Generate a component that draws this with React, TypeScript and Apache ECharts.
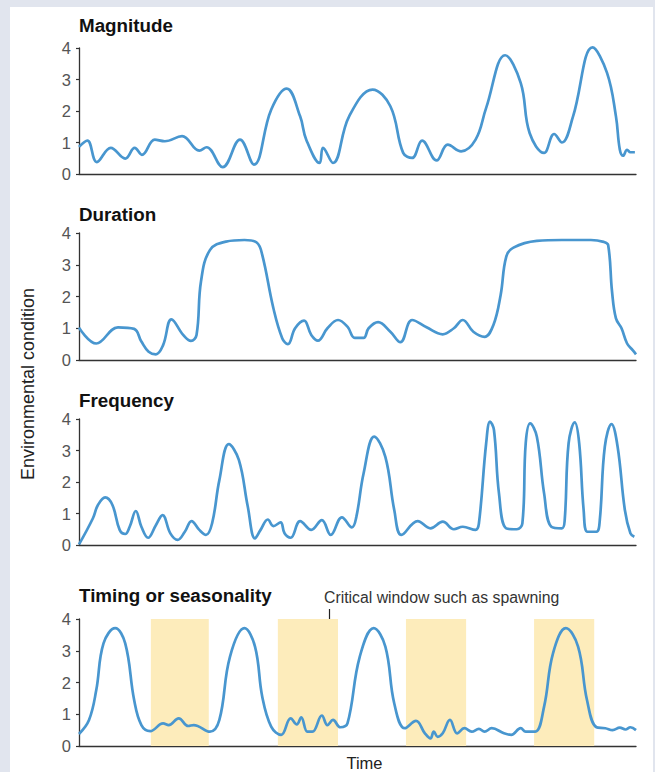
import React, { useEffect, useRef } from "react";
import * as echarts from "echarts";

// Time is on an arbitrary 0–100 scale; values are "environmental condition" 0–4
const yTicks = [0, 1, 2, 3, 4];
const panelTitles = ["Magnitude", "Duration", "Frequency", "Timing or seasonality"];

const magnitude: [number, number][] = [
  [0, 0.86], [1.5, 1.06], [3.2, 0.38], [5.7, 0.83], [8.3, 0.49], [10.0, 0.83], [11.3, 0.61],
  [13.6, 1.09], [15.4, 1.04], [18.5, 1.2], [21.6, 0.74], [22.9, 0.85], [25.8, 0.22], [28.9, 1.09],
  [31.4, 0.3], [34.5, 2.04], [37.3, 2.71], [39.7, 1.83], [40.8, 1.09], [43.2, 0.35], [43.8, 0.83],
  [45.6, 0.35], [48.5, 1.83], [52.7, 2.68], [55.9, 2.15], [58.2, 0.67], [59.8, 0.51], [61.6, 1.06],
  [64.2, 0.43], [66.2, 0.93], [68.6, 0.72], [71.2, 1.09], [73.1, 2.1], [76.5, 3.77], [79.3, 2.89],
  [80.9, 1.3], [83.5, 0.67], [85.3, 1.27], [86.7, 1.0], [88.7, 1.83], [92.2, 4.02], [94.8, 3.21],
  [96.4, 1.83], [97.1, 0.77], [97.7, 0.58], [98.4, 0.77], [99.0, 0.69], [99.8, 0.69],
];

const duration: [number, number][] = [
  [0, 1.02], [3.1, 0.52], [7.0, 1.03], [9.9, 0.98], [11.2, 0.58], [12.5, 0.26], [13.8, 0.18],
  [15.1, 0.47], [16.6, 1.28], [18.7, 0.79], [20.1, 0.6], [21.1, 0.79], [21.9, 2.47], [23.5, 3.46],
  [26.4, 3.73], [29.7, 3.78], [31.9, 3.7], [32.9, 3.31], [34.9, 1.63], [36.5, 0.68], [37.5, 0.5],
  [38.8, 1.0], [40.4, 1.24], [41.7, 0.79], [42.9, 0.61], [44.6, 1.0], [46.5, 1.26], [48.2, 1.05],
  [49.5, 0.7], [51.1, 0.7], [52.0, 1.0], [53.7, 1.19], [55.9, 0.89], [57.7, 0.56], [59.8, 1.26],
  [62.4, 1.03], [65.3, 0.81], [67.3, 1.0], [68.9, 1.26], [70.8, 0.89], [72.8, 0.73], [74.4, 1.1],
  [75.7, 2.05], [76.7, 3.25], [78.0, 3.54], [82.2, 3.75], [86.7, 3.78], [91.9, 3.78], [94.2, 3.72],
  [95.0, 3.62], [95.7, 2.15], [96.4, 1.31], [97.4, 1.0], [98.4, 0.52], [99.4, 0.31], [100, 0.18],
];

const frequency: [number, number][] = [
  [0, 0.02], [2.5, 0.85], [3.4, 1.27], [4.7, 1.51], [6.0, 1.27], [7.3, 0.48], [8.3, 0.35],
  [9.1, 0.58], [10.2, 1.08], [11.2, 0.58], [12.4, 0.23], [13.8, 0.63], [15.0, 0.95], [16.4, 0.37],
  [17.7, 0.16], [19.0, 0.42], [20.2, 0.76], [21.6, 0.48], [22.8, 0.32], [23.9, 0.69], [25.2, 2.06],
  [26.9, 3.2], [28.7, 2.7], [30.3, 1.22], [31.6, 0.21], [32.6, 0.48], [33.9, 0.81], [34.9, 0.6],
  [36.2, 0.72], [36.9, 0.37], [38.0, 0.23], [39.7, 0.76], [41.7, 0.48], [43.6, 0.79], [45.2, 0.32],
  [47.2, 0.88], [49.0, 0.56], [49.8, 0.9], [51.1, 2.28], [53.0, 3.44], [55.0, 2.8], [56.6, 1.11],
  [57.9, 0.32], [60.8, 0.76], [63.1, 0.53], [65.3, 0.74], [67.3, 0.5], [68.9, 0.58], [71.2, 0.48],
  [71.8, 0.69], [73.1, 3.23], [73.8, 3.92], [74.5, 3.65], [75.4, 1.64], [76.7, 0.53], [78.6, 0.5],
  [79.6, 0.69], [80.2, 3.23], [81.0, 3.86], [82.2, 3.44], [83.5, 1.64], [84.8, 0.58], [86.7, 0.53],
  [87.2, 0.79], [87.9, 3.23], [89.0, 3.89], [89.8, 3.23], [90.6, 1.11], [91.3, 0.42], [92.9, 0.42],
  [93.5, 0.79], [94.4, 3.12], [95.6, 3.84], [96.7, 3.12], [98.0, 1.11], [99.0, 0.37], [99.7, 0.26],
];

const timing: [number, number][] = [
  [0, 0.38], [1.8, 0.82], [3.1, 1.76], [4.4, 3.23], [6.5, 3.71], [8.3, 3.23], [9.9, 1.45],
  [11.2, 0.66], [12.8, 0.47], [15.1, 0.71], [16.1, 0.66], [17.9, 0.87], [19.6, 0.63], [20.6, 0.66],
  [23.5, 0.45], [25.2, 0.82], [27.1, 2.81], [29.7, 3.71], [31.6, 3.13], [32.9, 1.55], [34.5, 0.61],
  [36.3, 0.35], [38.0, 0.87], [39.1, 0.68], [39.9, 0.9], [41.0, 0.45], [41.9, 0.45], [43.6, 0.96],
  [44.6, 0.66], [45.6, 0.82], [46.9, 0.59], [48.2, 0.71], [50.4, 2.81], [52.9, 3.71], [55.0, 3.13],
  [56.6, 1.34], [58.5, 0.56], [60.5, 0.79], [62.1, 0.4], [63.1, 0.24], [63.7, 0.45], [64.4, 0.29],
  [65.3, 0.4], [66.6, 0.82], [67.9, 0.4], [69.2, 0.56], [70.5, 0.45], [71.8, 0.54], [72.8, 0.45],
  [74.1, 0.56], [76.3, 0.4], [77.6, 0.35], [79.3, 0.56], [80.2, 0.45], [81.9, 0.45], [83.5, 1.24],
  [85.1, 2.92], [87.4, 3.71], [89.6, 3.13], [91.2, 1.45], [92.9, 0.59], [94.5, 0.56], [95.8, 0.5],
  [97.1, 0.58], [98.1, 0.52], [99.0, 0.59], [100, 0.5],
];

const spawningWindows: [number, number][] = [
  [12.9, 23.3], [35.7, 46.5], [58.7, 69.5], [81.7, 92.5],
];

const annotationText = "Critical window such as spawning";
const yAxisTitle = "Environmental condition";
const xAxisTitle = "Time";

const seriesData = [magnitude, duration, frequency, timing];

const W = 655;
const H = 772;
const gridTops = [48, 233, 419, 619];
const gridHeights = [126, 127, 126, 127];
const titleCentersY = [25.5, 214.5, 400.5, 595];
const FONT = '"Liberation Sans", Arial, sans-serif';
const LINE_COLOR = "#4896cf";
const AXIS_COLOR = "#333333";

export default function App() {
  const ref = useRef<HTMLDivElement>(null);

  useEffect(() => {
    if (!ref.current) return;
    const chart = echarts.init(ref.current, undefined, { renderer: "svg" });

    const option: any = {
      animation: false,
      backgroundColor: "transparent",
      grid: gridTops.map((top, i) => ({
        left: 79,
        top,
        width: 557,
        height: gridHeights[i],
        containLabel: false,
      })),
      xAxis: gridTops.map((_, i) => ({
        type: "value",
        gridIndex: i,
        min: 0,
        max: 100,
        axisLine: { show: true, onZero: false, lineStyle: { color: AXIS_COLOR, width: 1.3 } },
        axisTick: { show: false },
        axisLabel: { show: false },
        splitLine: { show: false },
      })),
      yAxis: gridTops.map((_, i) => ({
        type: "value",
        gridIndex: i,
        min: yTicks[0],
        max: yTicks[yTicks.length - 1],
        interval: 1,
        axisLine: { show: true, lineStyle: { color: AXIS_COLOR, width: 1.3 } },
        axisTick: { show: true, length: 3, lineStyle: { color: AXIS_COLOR, width: 1.2 } },
        axisLabel: {
          fontSize: 16.5,
          color: "#555555",
          margin: 8,
          fontFamily: FONT,
        },
        splitLine: { show: false },
      })),
      series: seriesData.map((data, i) => ({
        type: "line",
        xAxisIndex: i,
        yAxisIndex: i,
        data,
        smooth: 0.4,
        symbol: "none",
        showSymbol: false,
        clip: false,
        z: 3,
        lineStyle: { color: LINE_COLOR, width: 2.7 },
        ...(i === 3
          ? {
              markArea: {
                silent: true,
                z: 1,
                itemStyle: { color: "#fdecbb", opacity: 1 },
                data: spawningWindows.map(([a, b]) => [
                  { xAxis: a, yAxis: 0 },
                  { xAxis: b, yAxis: 4 },
                ]),
              },
            }
          : {}),
      })),
      graphic: [
        ...panelTitles.map((t, i) => ({
          type: "text",
          x: 79,
          y: titleCentersY[i],
          silent: true,
          style: {
            text: t,
            fontSize: 18.8,
            fontWeight: "bold",
            fontFamily: FONT,
            fill: "#111111",
            verticalAlign: "middle",
            align: "left",
          },
        })),
        {
          type: "text",
          x: 324,
          y: 597.5,
          silent: true,
          style: {
            text: annotationText,
            fontSize: 15.8,
            fontFamily: FONT,
            fill: "#333333",
            verticalAlign: "middle",
            align: "left",
          },
        },
        {
          type: "line",
          silent: true,
          shape: { x1: 329.5, y1: 609, x2: 329.5, y2: 625 },
          style: { stroke: "#222222", lineWidth: 1.2 },
        },
        {
          type: "text",
          x: 27.5,
          y: 384,
          rotation: Math.PI / 2,
          silent: true,
          style: {
            text: yAxisTitle,
            fontSize: 18,
            fontFamily: FONT,
            fill: "#222222",
            verticalAlign: "middle",
            align: "center",
          },
        },
        {
          type: "text",
          x: 364.5,
          y: 763,
          silent: true,
          style: {
            text: xAxisTitle,
            fontSize: 16.5,
            fontFamily: FONT,
            fill: "#222222",
            verticalAlign: "middle",
            align: "center",
          },
        },
      ],
    };

    chart.setOption(option);
    return () => chart.dispose();
  }, []);

  return (
    <div
      style={{
        position: "absolute",
        left: 0,
        top: 0,
        width: W,
        height: H,
        background: "#e1e5ee",
        overflow: "hidden",
      }}
    >
      <div
        style={{
          position: "absolute",
          left: 10,
          top: 7,
          width: 643,
          height: H - 7,
          background: "#ffffff",
        }}
      />
      <div ref={ref} style={{ position: "absolute", left: 0, top: 0, width: W, height: H }} />
    </div>
  );
}
